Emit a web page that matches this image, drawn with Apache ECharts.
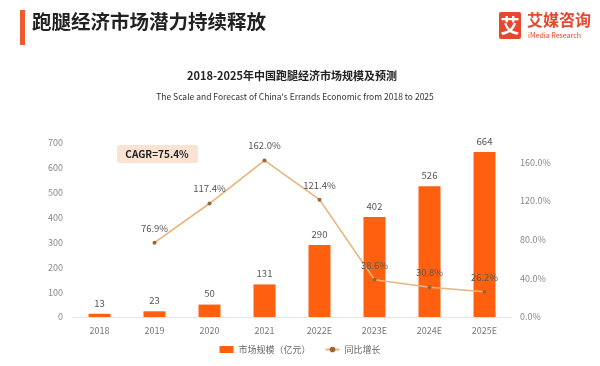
<!DOCTYPE html>
<html><head><meta charset="utf-8">
<script src="https://cdn.jsdelivr.net/npm/echarts@6/dist/echarts.min.js"></script>
<style>html,body{margin:0;padding:0;background:#fff}#c{width:600px;height:366px}</style>
</head><body><div id="c"></div>
<script>
const categories = ['2018','2019','2020','2021','2022E','2023E','2024E','2025E'];
const marketSize = [13, 23, 50, 131, 290, 402, 526, 664];
const growth = [null, 76.9, 117.4, 162.0, 121.4, 38.6, 30.8, 26.2];
const leftTicks = [0, 100, 200, 300, 400, 500, 600, 700];
const rightTicks = [0, 40, 80, 120, 160];
const FONT = '"Noto Sans CJK SC","Noto Sans",sans-serif';

const chart = echarts.init(document.getElementById('c'));
chart.setOption({
  backgroundColor: '#fff',
  animation: false,
  textStyle: {fontFamily: FONT},
  graphic: [
    {type:'rect', shape:{x:20,y:10,width:5,height:35}, style:{fill:'#EE5A2E'}},
    {type:'text', left:32, top:12, style:{text:'跑腿经济市场潜力持续释放', font:'bold 19.5px '+FONT, fill:'#222'}},
    {type:'rect', shape:{x:499,y:12,width:22,height:27,r:2}, style:{fill:'#E8472F'}},
    {type:'text', x:510, y:26, style:{text:'艾', font:'bold 19px '+FONT, fill:'#fff', align:'center', verticalAlign:'middle'}},
    {type:'text', x:527, y:12, style:{text:'艾媒咨询', font:'bold 16px '+FONT, fill:'#E8472F'}},
    {type:'text', x:528, y:32, style:{text:'iMedia Research', font:'7px '+FONT, fill:'#E8472F'}},
    {type:'text', x:292, y:76, style:{text:'2018-2025年中国跑腿经济市场规模及预测', font:'bold 11px '+FONT, fill:'#222', align:'center', verticalAlign:'middle'}},
    {type:'text', x:295, y:97, style:{text:"The Scale and Forecast of China's Errands Economic from 2018 to 2025", font:'8.5px '+FONT, fill:'#333', align:'center', verticalAlign:'middle'}},
    {type:'rect', shape:{x:117,y:145,width:81,height:18,r:2}, style:{fill:'#FBE3D3'}},
    {type:'text', x:157, y:154, style:{text:'CAGR=75.4%', font:'bold 10px '+FONT, fill:'#222', align:'center', verticalAlign:'middle'}}
  ],
  legend: {
    bottom: 7, left: 'center', itemGap: 14,
    itemWidth: 14, itemHeight: 7,
    textStyle: {fontSize: 9, color: '#666', fontFamily: FONT},
    data: [
      {name:'市场规模（亿元）', icon:'rect'},
      {name:'同比增长'}
    ]
  },
  grid: {left: 72, right: 88, top: 143, bottom: 49},
  xAxis: {
    type: 'category', data: categories,
    axisLine: {lineStyle: {color: '#E5E5E5'}},
    axisTick: {show: false},
    axisLabel: {color: '#777', fontSize: 9, margin: 9}
  },
  yAxis: [
    {type:'value', min:0, max:700, interval:100,
     axisLine:{show:false}, axisTick:{show:false}, splitLine:{show:false},
     axisLabel:{color:'#888', fontSize:9, margin:9}},
    {type:'value', min:0, max:180, interval:40,
     axisLine:{show:false}, axisTick:{show:false}, splitLine:{show:false},
     axisLabel:{color:'#888', fontSize:9, margin:8,
       formatter: v => v > 160 ? '' : v.toFixed(1) + '%'}}
  ],
  series: [
    {name:'市场规模（亿元）', type:'bar', data: marketSize, barWidth: 22,
     itemStyle:{color:'#FF6010'},
     label:{show:true, position:'top', color:'#555', fontSize:9.5, distance:6}},
    {name:'同比增长', type:'line', yAxisIndex:1, data: growth,
     symbol:'circle', symbolSize:4, connectNulls:false,
     lineStyle:{color:'#E9B47C', width:1.6},
     itemStyle:{color:'#9A6535'},
     label:{show:true, position:'top', color:'#555', fontSize:9.5, distance:8,
       formatter: p => p.value.toFixed(1) + '%'}}
  ]
});
</script></body></html>
